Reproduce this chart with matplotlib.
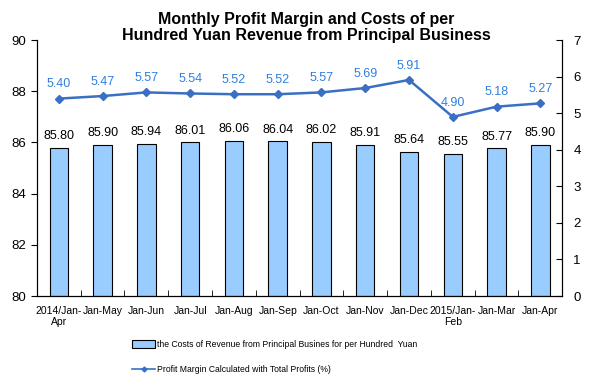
import matplotlib.pyplot as plt
import numpy as np
from matplotlib.patches import Patch
from matplotlib.lines import Line2D

plt.rcParams['font.family'] = ['Liberation Sans', 'DejaVu Sans']

# Data
categories = ['2014/Jan-\nApr', 'Jan-May', 'Jan-Jun', 'Jan-Jul', 'Jan-Aug', 'Jan-Sep',
              'Jan-Oct', 'Jan-Nov', 'Jan-Dec', '2015/Jan-\nFeb', 'Jan-Mar', 'Jan-Apr']
costs = [85.80, 85.90, 85.94, 86.01, 86.06, 86.04, 86.02, 85.91, 85.64, 85.55, 85.77, 85.90]
margin = [5.40, 5.47, 5.57, 5.54, 5.52, 5.52, 5.57, 5.69, 5.91, 4.90, 5.18, 5.27]

bar_color = '#99CCFF'
line_color = '#3A6FC4'
label_color = '#2F7FE0'

fig = plt.figure(figsize=(5.95, 3.82), dpi=100)
ax = fig.add_axes([0.062, 0.225, 0.883, 0.67])
x = np.arange(len(categories))

ax.bar(x, [c - 80 for c in costs], bottom=80, width=0.42, color=bar_color,
       edgecolor='black', linewidth=0.8, zorder=2)
for xi, c in zip(x, costs):
    ax.annotate(f'{c:.2f}', (xi, c), xytext=(0, 4), textcoords='offset points',
                ha='center', va='bottom', fontsize=9, color='black')

ax.set_ylim(80, 90)
ax.set_yticks(range(80, 91, 2))
ax.set_xlim(-0.5, len(categories) - 0.5)
ax.set_xticks(x)
ax.set_xticklabels(categories, fontsize=7.5, linespacing=1.15)
ax.tick_params(axis='x', length=0, pad=7)
ax.set_xticks(np.arange(-0.5, len(categories), 1), minor=True)
ax.tick_params(axis='x', which='minor', direction='in', length=4)
ax.tick_params(axis='y', labelsize=9.5, direction='out', length=4)
ax.spines['top'].set_visible(False)

ax2 = ax.twinx()
ax2.plot(x, margin, color=line_color, marker='D', markersize=4, linewidth=1.8, zorder=3)
for xi, m in zip(x, margin):
    ax2.annotate(f'{m:.2f}', (xi, m), xytext=(0, 6), textcoords='offset points',
                 ha='center', va='bottom', fontsize=9, color=label_color)
ax2.set_ylim(0, 7)
ax2.set_yticks(range(0, 8))
ax2.tick_params(axis='y', labelsize=9.5, direction='in', length=4, pad=8)
ax2.spines['top'].set_visible(False)

fig.text(0.515, 0.968, 'Monthly Profit Margin and Costs of per\nHundred Yuan Revenue from Principal Business',
         ha='center', va='top', fontsize=11.5, fontweight='bold', linespacing=1.1)

handles = [Patch(facecolor=bar_color, edgecolor='black', linewidth=0.8),
           Line2D([0], [0], color=line_color, marker='D', markersize=2.5, linewidth=1.2)]
labels = ['the Costs of Revenue from Principal Busines for per Hundred  Yuan',
          'Profit Margin Calculated with Total Profits (%)']
fig.legend(handles, labels, loc='upper left', bbox_to_anchor=(0.222, 0.11),
           frameon=False, fontsize=6.2, handlelength=2.7, handleheight=0.9,
           handletextpad=0.15, labelspacing=1.9, borderaxespad=0, borderpad=0)

fig.savefig('out.png', dpi=100)
